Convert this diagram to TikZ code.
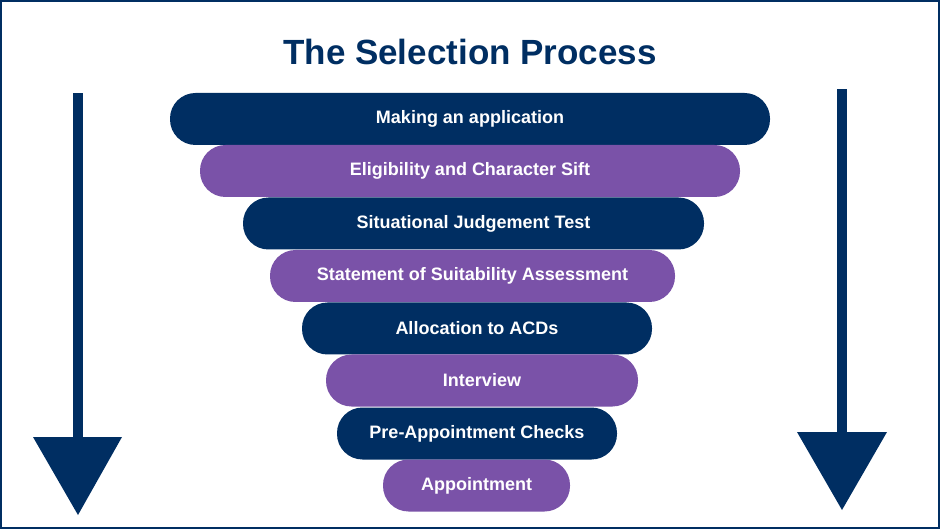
\documentclass[tikz,border=0pt]{standalone}
\usepackage{fontspec}
\setmainfont{Liberation Sans}
\definecolor{navy}{RGB}{0,46,98}
\definecolor{violet}{RGB}{122,82,168}
\tikzset{
    stage/.style={rounded corners=25.5pt, minimum height=52pt, inner sep=0pt, text=white, font=\bfseries\fontsize{18}{20}\selectfont},
    arrowshaft/.style={fill=navy, draw=none},
}
\begin{document}
\begin{tikzpicture}[x=1pt, y=-1pt]
        \draw[navy, line width=2pt] (1, 1) rectangle (939, 528);
        \useasboundingbox (0, 0) rectangle (940, 529);
        \node[font=\bfseries\fontsize{35}{40}\selectfont, text=navy] (title) at (470, 52) {The Selection Process};
        \node[stage, fill=navy, minimum width=600pt] (apply) at (470, 119) {Making an application};
        \node[stage, fill=violet, minimum width=540pt] (sift) at (470, 171) {Eligibility and Character Sift};
        \node[stage, fill=navy, minimum width=461pt] (sjt) at (473.5, 223.5) {Situational Judgement Test};
        \node[stage, fill=violet, minimum width=405pt] (ssa) at (472.5, 276) {Statement of Suitability Assessment};
        \node[stage, fill=navy, minimum width=350pt] (acd) at (477, 328.5) {Allocation to ACDs};
        \node[stage, fill=violet, minimum width=312pt] (interview) at (482, 380.5) {Interview};
        \node[stage, fill=navy, minimum width=280pt] (checks) at (477, 433.5) {Pre-Appointment Checks};
        \node[stage, fill=violet, minimum width=187pt] (appoint) at (476.5, 485.5) {Appointment};
        % arrows at the sides
        \fill[arrowshaft] (73, 93) rectangle (83, 438);
        \fill[arrowshaft] (33, 437) -- (122, 437) -- (78, 515) -- cycle;
        \fill[arrowshaft] (837, 89) rectangle (847, 433);
        \fill[arrowshaft] (797, 432) -- (887, 432) -- (842, 510) -- cycle;
\end{tikzpicture}
\end{document}
